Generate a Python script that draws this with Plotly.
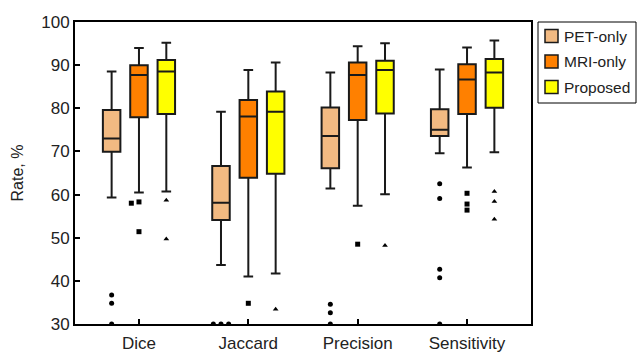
import plotly.graph_objects as go

categories = ["Dice", "Jaccard", "Precision", "Sensitivity"]
methods = ["PET-only", "MRI-only", "Proposed"]

# box statistics per method, one value per category
lowerfence = {
    "PET-only": [59.3, 43.7, 61.4, 69.6],
    "MRI-only": [60.5, 41.0, 57.4, 66.3],
    "Proposed": [60.7, 41.7, 60.1, 69.8],
}
q1 = {
    "PET-only": [69.9, 54.1, 66.1, 73.6],
    "MRI-only": [77.9, 63.9, 77.3, 78.7],
    "Proposed": [78.7, 64.8, 78.8, 80.1],
}
median = {
    "PET-only": [73.0, 58.1, 73.6, 75.0],
    "MRI-only": [87.7, 78.1, 87.7, 86.7],
    "Proposed": [88.5, 79.2, 88.9, 88.3],
}
q3 = {
    "PET-only": [79.6, 66.6, 80.2, 79.8],
    "MRI-only": [90.0, 81.9, 90.6, 90.2],
    "Proposed": [91.2, 83.9, 91.0, 91.4],
}
upperfence = {
    "PET-only": [88.5, 79.2, 88.3, 89.0],
    "MRI-only": [94.0, 88.9, 94.4, 94.1],
    "Proposed": [95.2, 90.6, 95.1, 95.7],
}
outliers = {
    "PET-only": [[36.7, 34.8, 30.0], [30.0, 30.0, 30.0], [34.6, 32.6, 30.0], [62.5, 59.1, 42.7, 40.7, 30.0]],
    "MRI-only": [[58.3, 58.0, 51.4], [34.8], [48.5], [60.3, 57.8, 56.4]],
    "Proposed": [[58.7, 49.7], [33.4], [48.2], [60.7, 58.4, 54.3]],
}

colors = {"PET-only": "#F2BA82", "MRI-only": "#FF8000", "Proposed": "#FFFF00"}
symbols = {"PET-only": "circle", "MRI-only": "square", "Proposed": "triangle-up"}
offsets = {"PET-only": -0.25, "MRI-only": 0.0, "Proposed": 0.25}

W, H = 638, 354
ML, MR, MT, MB = 75, 107, 22, 30
PW, PH = W - ML - MR, H - MT - MB

fig = go.Figure()
for m in methods:
    xs = [i + 1 + offsets[m] for i in range(len(categories))]
    fig.add_trace(go.Box(
        name=m, x=xs,
        q1=q1[m], median=median[m], q3=q3[m],
        lowerfence=lowerfence[m], upperfence=upperfence[m],
        width=0.16, whiskerwidth=0.55,
        fillcolor=colors[m], line=dict(color="#1a1a1a", width=2),
        boxpoints=False, hoverinfo="skip", showlegend=False,
    ))

for m in methods:
    ox, oy = [], []
    for i, vals in enumerate(outliers[m]):
        placed = []
        for v in vals:
            n = sum(1 for p in placed if abs(p - v) < 0.8)
            shift = 0 if n == 0 else (-1 if n % 2 == 1 else 1) * ((n + 1) // 2) * 0.07
            ox.append(i + 1 + offsets[m] + shift)
            oy.append(v)
            placed.append(v)
    fig.add_trace(go.Scatter(
        x=ox, y=oy, mode="markers", showlegend=False,
        marker=dict(symbol=symbols[m], size=5, color="black"),
        hoverinfo="skip",
    ))

# legend drawn in paper coordinates (converted from pixels)
def px_x(p):
    return (p - ML) / PW

def px_y(p):
    return (H - MB - p) / PH

shapes = [dict(type="rect", xref="paper", yref="paper",
               x0=px_x(538), x1=px_x(636), y0=px_y(103), y1=px_y(22),
               line=dict(color="black", width=1), fillcolor="white", layer="above")]
annotations = []
for k, m in enumerate(methods):
    cy = 36 + 25.5 * k
    shapes.append(dict(type="rect", xref="paper", yref="paper",
                       x0=px_x(545), x1=px_x(558), y0=px_y(cy + 6.5), y1=px_y(cy - 6.5),
                       line=dict(color="#1a1a1a", width=1.5), fillcolor=colors[m], layer="above"))
    annotations.append(dict(xref="paper", yref="paper", x=px_x(562), y=px_y(cy),
                            xanchor="left", yanchor="middle", showarrow=False, text=m,
                            font=dict(size=15.5, color="#222222")))

fig.update_layout(
    width=W, height=H,
    margin=dict(l=ML, r=MR, t=MT, b=MB, autoexpand=False),
    plot_bgcolor="white", paper_bgcolor="white",
    font=dict(family="Liberation Sans, Arial, sans-serif", size=16, color="#222222"),
    showlegend=False,
    shapes=shapes, annotations=annotations,
)
fig.update_xaxes(
    range=[0.415, 4.585],
    tickmode="array", tickvals=[1, 2, 3, 4], ticktext=categories,
    ticks="inside", ticklen=5, tickwidth=2, tickcolor="black",
    showline=True, linecolor="black", linewidth=2, mirror=True,
    showgrid=False, zeroline=False, automargin=False,
    tickfont=dict(size=17), ticklabelstandoff=3,
)
fig.update_yaxes(
    range=[30, 100], dtick=10,
    ticks="inside", ticklen=5, tickwidth=2, tickcolor="black",
    showline=True, linecolor="black", linewidth=2, mirror=True,
    showgrid=False, zeroline=False, automargin=False,
    tickfont=dict(size=17),
    title=dict(text="Rate, %", font=dict(size=16), standoff=14),
)

fig.write_html("out.html")
